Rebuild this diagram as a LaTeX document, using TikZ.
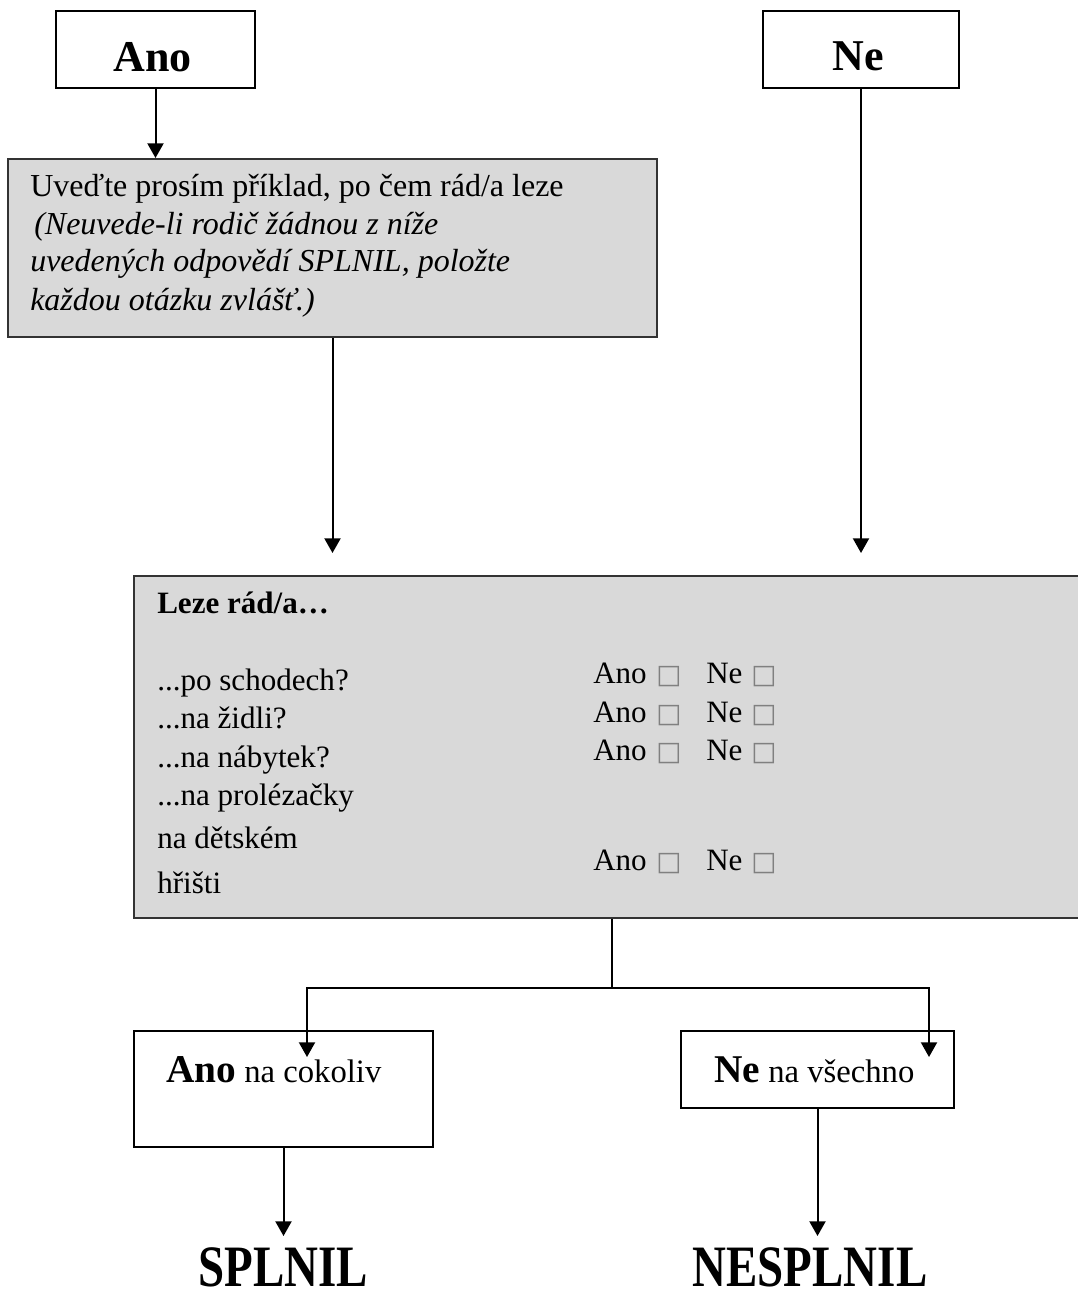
\documentclass[tikz,border=0pt]{standalone}
\usepackage{fontspec}
\usepackage{graphicx}
\setmainfont{Liberation Serif}
\newfontfamily\symfont{DejaVu Sans}
\usetikzlibrary{arrows.meta}
\definecolor{boxgray}{HTML}{D9D9D9}
\definecolor{edgegray}{HTML}{333333}
\begin{document}
\begin{tikzpicture}[x=0.75pt,y=-0.75pt,
  frame/.style={draw=black,line width=2.2pt,inner sep=0pt},
  graybox/.style={draw=edgegray,fill=boxgray,line width=1.5pt,inner sep=0pt},
  conn/.style={line width=1.5pt},
  arr/.style={conn,-{Triangle[width=12pt,length=11pt]}},
  bigb/.style={font=\fontsize{33}{38}\selectfont\bfseries,inner sep=0pt,anchor=base},
  body/.style={font=\fontsize{24}{29}\selectfont,inner sep=0pt,anchor=base west},
  list/.style={font=\fontsize{23.3}{28}\selectfont,inner sep=0pt,anchor=base west},
  chk/.style={font=\symfont\fontsize{20}{24}\selectfont,text=gray,inner sep=0pt,anchor=base west},
  res/.style={inner sep=0pt,anchor=base},
  boxlabel/.style={inner sep=0pt,anchor=base west}
]
\useasboundingbox (0,0) rectangle (1077,1298);

% top boxes
\node[frame,minimum width=199*0.75pt,minimum height=77*0.75pt] (ano) at (155.5,49.5) {};
\node[bigb] (anot) at (152.5,72) {Ano};
\node[frame,minimum width=196*0.75pt,minimum height=77*0.75pt] (ne) at (861,49.5) {};
\node[bigb] (net) at (858,71) {Ne};

% first gray box
\node[graybox,minimum width=649*0.75pt,minimum height=178*0.75pt] (g1) at (332.5,248) {};
\node[body] (g1a) at (30,197) {Uveďte prosím příklad, po čem rád/a leze};
\node[body] (g1b) at (34,234) {\itshape (Neuvede-li rodič žádnou z níže};
\node[body] (g1c) at (30,272) {\itshape uvedených odpovědí SPLNIL, položte};
\node[body] (g1d) at (30,310) {\itshape každou otázku zvlášť.)};

% second gray box
\node[graybox,minimum width=960*0.75pt,minimum height=342*0.75pt] (g2) at (614,747) {};
\node[list] (l0) at (157,613) {\bfseries Leze rád/a…};
\node[list] (l1) at (157,690) {...po schodech?};
\node[list] (l2) at (157,728) {...na židli?};
\node[list] (l3) at (157,767) {...na nábytek?};
\node[list] (l4) at (157,805) {...na prolézačky};
\node[list] (l5) at (157,848) {na dětském};
\node[list] (l6) at (157,893) {hřišti};

\foreach \y/\n in {683/1,722/2,760/3,870/4}{
  \node[list] (ya\n) at (593,\y) {Ano};
  \node[chk] (yb\n) at (656,\y) {□};
  \node[list] (na\n) at (706,\y) {Ne};
  \node[chk] (nb\n) at (751,\y) {□};
}

% bottom boxes
\node[frame,minimum width=299*0.75pt,minimum height=116*0.75pt] (anob) at (283.5,1089) {};
\node[boxlabel] (anobt) at (166,1082)
  {{\fontsize{29.5}{34}\selectfont\bfseries Ano}{\fontsize{24.5}{29}\selectfont\ na cokoliv}};
\node[frame,minimum width=273*0.75pt,minimum height=77*0.75pt] (neb) at (817.5,1069.5) {};
\node[boxlabel] (nebt) at (714,1082)
  {{\fontsize{29.5}{34}\selectfont\bfseries Ne}{\fontsize{24.5}{29}\selectfont\ na všechno}};

\node[res] (spl) at (283,1286) {\scalebox{0.8}[1]{\fontsize{44}{48}\selectfont\bfseries SPLNIL}};
\node[res] (nespl) at (810,1286) {\scalebox{0.8}[1]{\fontsize{44}{48}\selectfont\bfseries NESPLNIL}};

% connectors
\coordinate (t1) at (332.5,553);
\coordinate (t2) at (861,553);
\coordinate (j) at (612,988);
\coordinate (bl) at (307,1057);
\coordinate (br) at (929,1057);
\coordinate (t3) at (284,1236);

\draw[arr] (ano.south) -- (ano.south |- g1.north);
\draw[arr] (g1.south) -- (t1);
\draw[arr] (ne.south) -- (t2);
\draw[conn] (g2.south -| j) -- (j);
\draw[arr] (j) -| (bl);
\draw[arr] (j) -| (br);
\draw[arr] (anob.south) -- (anob.south |- t3);
\draw[arr] (neb.south) -- (neb.south |- t3);
\end{tikzpicture}
\end{document}
